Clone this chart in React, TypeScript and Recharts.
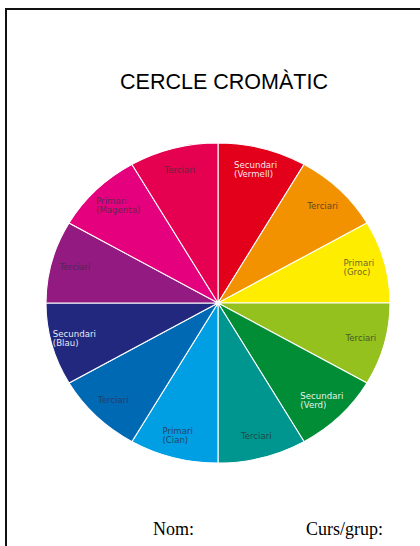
import { Cell, Pie, PieChart } from "recharts";

const labelTop = [
  "Secundari",
  "Terciari",
  "Primari",
  "Terciari",
  "Secundari",
  "Terciari",
  "Primari",
  "Terciari",
  "Secundari",
  "Terciari",
  "Primari",
  "Terciari",
];
const labelBottom = ["(Vermell)", "", "(Groc)", "", "(Verd)", "", "(Cian)", "", "(Blau)", "", "(Magenta)", ""];
const sectorValues = [1, 1, 1, 1, 1, 1, 1, 1, 1, 1, 1, 1];
const sectorColors = [
  "#e2001a",
  "#f39200",
  "#ffed00",
  "#95c11f",
  "#008d36",
  "#009690",
  "#009fe3",
  "#0069b4",
  "#21287e",
  "#931a80",
  "#e5007e",
  "#e50050",
];
const textColors = [
  "#ffffff",
  "#4a3a2a",
  "#5a5a2a",
  "#3a4a2a",
  "#ffffff",
  "#2a3a3a",
  "#2a3a5a",
  "#2a3a5a",
  "#ffffff",
  "#4a2a4a",
  "#5a2a4a",
  "#5a2a3a",
];

const data = sectorValues.map((value, i) => ({ name: `${labelTop[i]} ${labelBottom[i]}`.trim(), value }));

const RAD = Math.PI / 180;

function SectorLabel(props: any) {
  const { cx, cy, midAngle, outerRadius, index } = props;
  const r = outerRadius * 0.86;
  const x = cx + r * Math.cos(-midAngle * RAD);
  const y = cy + r * Math.sin(-midAngle * RAD);
  const top = labelTop[index];
  const bottom = labelBottom[index];
  const fill = textColors[index];
  if (!bottom) {
    return (
      <text x={x} y={y} textAnchor="middle" dominantBaseline="central" fill={fill} fontSize={8} fontFamily="DejaVu Sans" opacity={0.85}>
        {top}
      </text>
    );
  }
  const startX = x - (top.length * 4.6) / 2;
  return (
    <text x={startX} y={y - 4.5} textAnchor="start" dominantBaseline="central" fill={fill} fontSize={8} fontFamily="DejaVu Sans" opacity={0.9}>
      <tspan x={startX} dy={0}>{top}</tspan>
      <tspan x={startX} dy={9}>{bottom}</tspan>
    </text>
  );
}

export default function App() {
  return (
    <div style={{ position: "absolute", left: 0, top: 0, width: 420, height: 546, background: "#fff", overflow: "hidden" }}>
      <div style={{ position: "absolute", left: 5, top: 8, width: 600, height: 700, border: "2px solid #111" }} />
      <div
        style={{
          position: "absolute",
          left: 0,
          top: 72,
          width: 448,
          textAlign: "center",
          fontFamily: "'Liberation Sans', Arial, sans-serif",
          fontSize: 21.5,
          lineHeight: 1,
          color: "#000",
        }}
      >
        CERCLE CROMÀTIC
      </div>
      <div style={{ position: "absolute", left: 48, top: 133, width: 340, height: 340, transform: "scaleX(1.075)", transformOrigin: "170px 170px" }}>
        <PieChart width={340} height={340}>
          <Pie
            data={data}
            dataKey="value"
            nameKey="name"
            cx="50%"
            cy="50%"
            outerRadius={160}
            startAngle={90}
            endAngle={-270}
            stroke="#ffffff"
            strokeWidth={1}
            label={SectorLabel}
            labelLine={false}
            isAnimationActive={false}
          >
            {data.map((d, i) => (
              <Cell key={i} fill={sectorColors[i]} />
            ))}
          </Pie>
        </PieChart>
      </div>
      <div style={{ position: "absolute", left: 153, top: 520, fontFamily: "'Liberation Serif', 'Times New Roman', serif", fontSize: 18, lineHeight: 1 }}>
        Nom:
      </div>
      <div style={{ position: "absolute", left: 306, top: 520, fontFamily: "'Liberation Serif', 'Times New Roman', serif", fontSize: 18, lineHeight: 1 }}>
        Curs/grup:
      </div>
    </div>
  );
}
